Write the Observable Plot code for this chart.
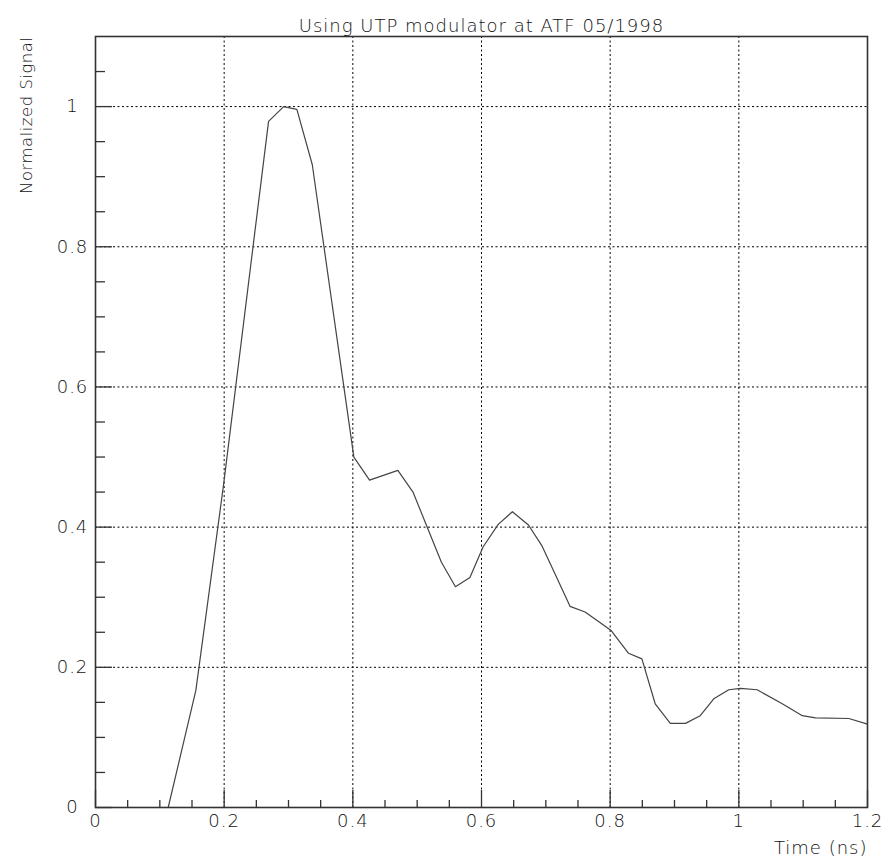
<!DOCTYPE html>
<html>
<head>
<meta charset="utf-8">
<script src="https://cdn.jsdelivr.net/npm/d3@7"></script>
<script src="https://cdn.jsdelivr.net/npm/@observablehq/plot@0.6"></script>
<style>
  html, body { margin: 0; padding: 0; background: #fff; }
  #chart svg { display: block; }
  #chart svg text { letter-spacing: 1px; font-weight: 300; }
  #chart svg text.ytitle { letter-spacing: 0.5px; }
</style>
</head>
<body>
<div id="chart"></div>
<script>
// Normalized pulse signal measured with the UTP modulator (ATF, May 1998)
const time = [0.113, 0.156, 0.199, 0.269, 0.2925, 0.313, 0.337, 0.4016, 0.426, 0.470,
  0.4935, 0.5377, 0.5595, 0.582, 0.6026, 0.626, 0.648, 0.673, 0.6935, 0.714,
  0.7376, 0.761, 0.801, 0.8286, 0.8493, 0.870, 0.8935, 0.917, 0.940, 0.961,
  0.9844, 1.0025, 1.0285, 1.0675, 1.0987, 1.119, 1.171, 1.2];
const signal = [0, 0.167, 0.46, 0.979, 1.0, 0.996, 0.917, 0.5, 0.467, 0.481,
  0.45, 0.35, 0.315, 0.328, 0.372, 0.404, 0.422, 0.403, 0.374, 0.334,
  0.287, 0.279, 0.253, 0.22, 0.212, 0.148, 0.12, 0.12, 0.131, 0.155,
  0.168, 0.17, 0.168, 0.148, 0.131, 0.128, 0.127, 0.119];

// Axis ticks and labels
const xMajor = [0, 0.2, 0.4, 0.6, 0.8, 1, 1.2];
const xMinor = [0.05, 0.1, 0.15, 0.25, 0.3, 0.35, 0.45, 0.5, 0.55, 0.65, 0.7, 0.75,
  0.85, 0.9, 0.95, 1.05, 1.1, 1.15];
const yMajor = [0, 0.2, 0.4, 0.6, 0.8, 1];
const yMinor = [0.05, 0.1, 0.15, 0.25, 0.3, 0.35, 0.45, 0.5, 0.55, 0.65, 0.7, 0.75,
  0.85, 0.9, 0.95, 1.05];
const xLabels = ["0", "0.2", "0.4", "0.6", "0.8", "1", "1.2"];
const yLabels = ["0", "0.2", "0.4", "0.6", "0.8", "1"];

const title = "Using UTP modulator at ATF 05/1998";
const xTitle = "Time (ns)";
const yTitle = "Normalized Signal";

const points = time.map((t, i) => ({t, s: signal[i]}));

const W = 883, H = 865;
const mL = 95, mR = 16, mT = 36, mB = 58;
const innerW = W - mL - mR, innerH = H - mT - mB;
const ink = "#111";
const font = "DejaVu Sans, Verdana, sans-serif";

const chart = Plot.plot({
  width: W,
  height: H,
  marginLeft: mL,
  marginRight: mR,
  marginTop: mT,
  marginBottom: mB,
  style: {fontFamily: font, background: "#fff"},
  x: {domain: [0, 1.2], axis: null},
  y: {domain: [0, 1.1], axis: null},
  marks: [
    // dotted grid at the major ticks
    Plot.ruleX(xMajor, {x: d => d, stroke: "#000", strokeWidth: 1, strokeDasharray: "2,2.5"}),
    Plot.ruleY(yMajor, {y: d => d, stroke: "#000", strokeWidth: 1, strokeDasharray: "2,2.5"}),
    // inward tick marks along the bottom and left edges
    Plot.tickX(xMajor, {x: d => d, stroke: "#333", strokeWidth: 1.3, insetTop: innerH - 17}),
    Plot.tickX(xMinor, {x: d => d, stroke: "#333", strokeWidth: 1.3, insetTop: innerH - 7}),
    Plot.tickY(yMajor, {y: d => d, stroke: "#333", strokeWidth: 1.3, insetRight: innerW - 17}),
    Plot.tickY(yMinor, {y: d => d, stroke: "#333", strokeWidth: 1.3, insetRight: innerW - 10}),
    // the measured signal
    Plot.line(points, {x: "t", y: "s", stroke: "#444", strokeWidth: 1.2}),
    Plot.frame({stroke: "#333", strokeWidth: 1.6}),
    // tick labels
    Plot.text(xMajor, {x: d => d, text: (d, i) => xLabels[i], frameAnchor: "bottom", dy: 19,
      fontSize: 18, fill: ink, textAnchor: "middle"}),
    Plot.text(yMajor, {y: d => d, text: (d, i) => yLabels[i], frameAnchor: "left", dx: -23,
      fontSize: 18, fill: ink, textAnchor: "middle"}),
    // titles
    Plot.text([title], {text: d => d, frameAnchor: "top", dy: -17, fontSize: 18, fill: ink}),
    Plot.text([xTitle], {text: d => d, frameAnchor: "bottom-right", dy: 46, textAnchor: "end",
      fontSize: 18, fill: ink}),
    Plot.text([yTitle], {text: d => d, frameAnchor: "top-left", dx: -75, rotate: -90,
      textAnchor: "end", fontSize: 16.5, fill: ink, className: "ytitle"})
  ]
});

// the y title gets its own, tighter letter spacing
chart.querySelectorAll("g[aria-label='text']").forEach(g => {
  if (g.textContent === yTitle) g.querySelectorAll("text").forEach(t => t.classList.add("ytitle"));
});

document.getElementById("chart").append(chart);
</script>
</body>
</html>
